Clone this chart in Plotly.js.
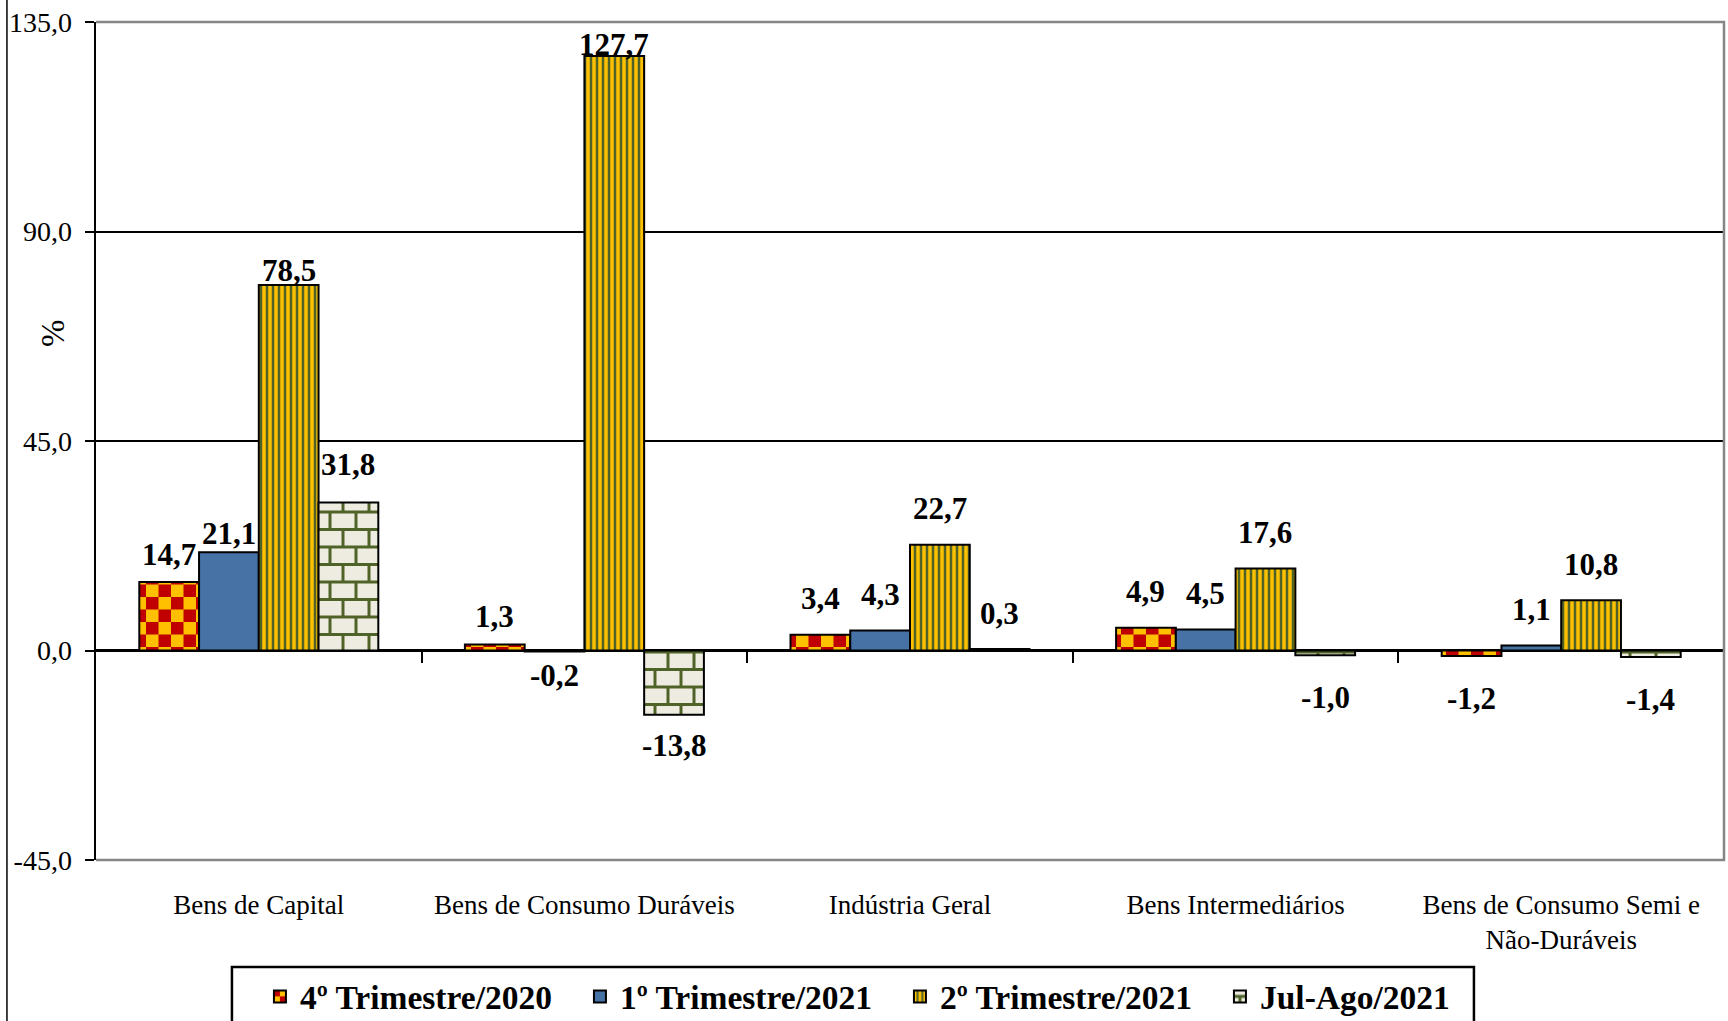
<!DOCTYPE html>
<html>
<head>
<meta charset="utf-8">
<script src="https://cdn.plot.ly/plotly-3.0.1.min.js"></script>
<style>
html,body{margin:0;padding:0;background:#fff;}
#chart{width:1728px;height:1021px;}
</style>
</head>
<body>
<div id="chart"></div>
<script>
// ---- data ----
const categories = ["Bens de Capital", "Bens de Consumo Duráveis", "Indústria Geral", "Bens Intermediários", "Bens de Consumo Semi e<br>Não-Duráveis"];
const seriesNames = ["4º Trimestre/2020", "1º Trimestre/2021", "2º Trimestre/2021", "Jul-Ago/2021"];
const q4_2020 = [14.7, 1.3, 3.4, 4.9, -1.2];
const q1_2021 = [21.1, -0.2, 4.3, 4.5, 1.1];
const q2_2021 = [78.5, 127.7, 22.7, 17.6, 10.8];
const julAgo_2021 = [31.8, -13.8, 0.3, -1.0, -1.4];
const yTickVals = [-45, 0, 45, 90, 135];

// ---- style ----
const FONT = "Liberation Serif";
const bargap = 0.266;
const seriesValues = [q4_2020, q1_2021, q2_2021, julAgo_2021];
const fmt = v => v.toFixed(1).replace('.', ',');
const yTickText = yTickVals.map(fmt);
// label pixel offsets (Excel manual label positions)
const labelShift = {"0,0": 28, "1,0": 19, "2,0": 15, "0,1": 28, "2,1": 11, "1,1": -24, "3,1": -31, "3,0": 38};

const markers = [
  {color: '#FFC000', line: {color: '#000', width: 2}},
  {color: '#4672A6', line: {color: '#000', width: 2}},
  {color: '#FFC000', line: {color: '#000', width: 2},
   pattern: {shape: '|', fgcolor: '#4F6228', bgcolor: '#FFC000', size: 6, solidity: 0.42, fillmode: 'replace'}},
  {color: '#EEECE1', line: {color: '#000', width: 2}}
];

const traces = seriesNames.map((name, i) => ({
  type: 'bar', name: name, x: categories, y: seriesValues[i],
  marker: markers[i], hoverinfo: 'none'
}));
// helper trace on overlay axis for category boundary ticks
traces.push({type: 'scatter', x: [], y: [], xaxis: 'x2', yaxis: 'y', showlegend: false, hoverinfo: 'none'});

const nS = seriesNames.length;
const bw = (1 - bargap) / nS;
const annotations = [];
seriesValues.forEach((vals, i) => {
  vals.forEach((v, j) => {
    const key = i + ',' + j;
    let sh = labelShift[key] !== undefined ? labelShift[key] : (v >= 0 ? 36 : -42);
    annotations.push({
      x: j - (1 - bargap) / 2 + (i + 0.5) * bw, xref: 'x2',
      y: v, yref: 'y', yshift: sh,
      text: '<b>' + fmt(v) + '</b>', showarrow: false,
      xanchor: 'center', yanchor: 'middle',
      font: {family: FONT, size: 31, color: '#000'}
    });
  });
});
annotations.push({
  x: -0.0264, xref: 'paper', y: 68.2, yref: 'y', text: '%', textangle: -90,
  xanchor: 'center', yanchor: 'middle',
  showarrow: false, font: {family: FONT, size: 33, color: '#000'}
});

const layout = {
  width: 1728, height: 1021,
  margin: {l: 96, r: 4, t: 22, b: 161, autoexpand: false},
  paper_bgcolor: '#fff', plot_bgcolor: '#fff',
  separators: ', ',
  barmode: 'group', bargap: bargap, bargroupgap: 0,
  font: {family: FONT, color: '#000'},
  showlegend: true,
  legend: {
    orientation: 'h', x: 0.1007, xanchor: 'left', y: -0.129, yanchor: 'top',
    borderwidth: 0, bgcolor: 'rgba(0,0,0,0)',
    font: {family: FONT, size: 33.5, color: '#000', weight: 'bold'},
    entrywidth: 275, entrywidthmode: 'pixels', itemwidth: 30, traceorder: 'normal'
  },
  xaxis: {
    type: 'category', range: [-0.5, 4.5], showgrid: false, showline: false, zeroline: false,
    ticks: '', tickfont: {family: FONT, size: 27, color: '#000'}, ticklabelstandoff: 26
  },
  xaxis2: {
    type: 'linear', range: [-0.5, 4.5], overlaying: 'x', anchor: 'free', position: 0.25,
    showgrid: false, showline: false, zeroline: false, showticklabels: false,
    tickmode: 'array', tickvals: [0.5, 1.5, 2.5, 3.5, 4.5],
    ticks: 'outside', ticklen: 11, tickwidth: 2, tickcolor: '#000'
  },
  yaxis: {
    range: [-45, 135], tickmode: 'array', tickvals: yTickVals, ticktext: yTickText,
    showline: true, linecolor: '#000', linewidth: 2.5,
    ticks: 'outside', ticklen: 9, tickwidth: 2, tickcolor: '#000',
    showgrid: true, gridcolor: '#000', gridwidth: 2,
    zeroline: true, zerolinecolor: '#000', zerolinewidth: 2.5,
    tickfont: {family: FONT, size: 28, color: '#000'}, ticklabelstandoff: 7
  },
  shapes: [
    {type: 'path', xref: 'paper', yref: 'paper', path: 'M0,1 L1,1 L1,0 L0,0',
     line: {color: '#868686', width: 2.5}, layer: 'above'},
    {type: 'line', xref: 'paper', yref: 'paper', x0: -0.0547, x1: -0.0547, y0: -0.2, y1: 1.03,
     line: {color: '#000', width: 1.5}},
    // legend frame
    {type: 'rect', xref: 'paper', yref: 'paper', x0: 0.0835, x1: 0.8464, y0: -0.21, y1: -0.1277,
     line: {color: '#000', width: 2.5}, fillcolor: 'rgba(0,0,0,0)', layer: 'above'}
  ],
  annotations: annotations
};

function applyPatterns(gd) {
  const NS = 'http://www.w3.org/2000/svg';
  const svg = gd.querySelector('svg.main-svg');
  let defs = svg.querySelector('defs');
  if (!defs) { defs = document.createElementNS(NS, 'defs'); svg.insertBefore(defs, svg.firstChild); }
  function mk(tag, attrs, parent) {
    const el = document.createElementNS(NS, tag);
    for (const k in attrs) el.setAttribute(k, attrs[k]);
    parent.appendChild(el);
    return el;
  }
  // checkerboard
  const chk = mk('pattern', {id: 'chkPat', patternUnits: 'userSpaceOnUse', width: 25, height: 25}, defs);
  mk('rect', {x: 0, y: 0, width: 25, height: 25, fill: '#FFC000'}, chk);
  mk('rect', {x: 0, y: 0, width: 12.5, height: 12.5, fill: '#C00000'}, chk);
  mk('rect', {x: 12.5, y: 12.5, width: 12.5, height: 12.5, fill: '#C00000'}, chk);
  // bricks
  const brk = mk('pattern', {id: 'brkPat', patternUnits: 'userSpaceOnUse', width: 26, height: 35}, defs);
  mk('rect', {x: 0, y: 0, width: 26, height: 35, fill: '#4F6228'}, brk);
  mk('rect', {x: 1.5, y: 1.5, width: 23, height: 14.5, fill: '#EEECE1'}, brk);
  mk('rect', {x: -11.5, y: 19, width: 23, height: 14.5, fill: '#EEECE1'}, brk);
  mk('rect', {x: 14.5, y: 19, width: 23, height: 14.5, fill: '#EEECE1'}, brk);

  const map = {0: 'url(#chkPat)', 3: 'url(#brkPat)'};
  const barTraces = gd.querySelectorAll('.barlayer .trace');
  const legTraces = gd.querySelectorAll('.legend .traces');
  for (const idx in map) {
    if (barTraces[idx]) barTraces[idx].querySelectorAll('path').forEach(p => p.style.fill = map[idx]);
    if (legTraces[idx]) legTraces[idx].querySelectorAll('.legendpoints path').forEach(p => p.style.fill = map[idx]);
  }
}

const gd = document.getElementById('chart');
Plotly.newPlot(gd, traces, layout, {displayModeBar: false, staticPlot: true}).then(applyPatterns);
</script>
</body>
</html>
